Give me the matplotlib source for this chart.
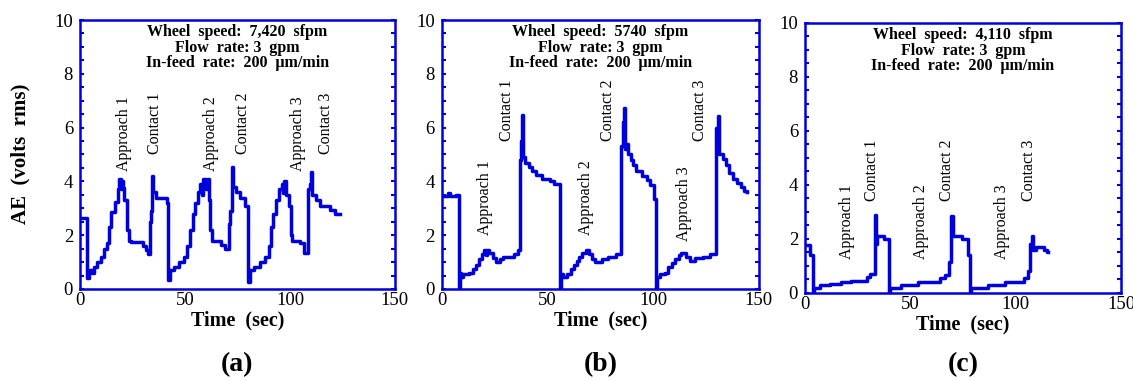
import matplotlib.pyplot as plt
from matplotlib.ticker import MultipleLocator

# AE signal readings (time in sec, AE in volts rms)
points_a = [(0, 2.63), (3.5, 0.4), (4.3, 0.7), (5.5, 0.6), (6.5, 0.8), (8, 1.0), (10, 1.2),
            (11.5, 1.5), (13, 1.7), (14, 2.3), (15, 2.85), (16.8, 3.25), (18, 3.7), (18.7, 4.1),
            (19.3, 3.7), (19.8, 4.0), (20.5, 3.75), (21, 3.3), (22.5, 2.2), (23.3, 1.8),
            (24.5, 1.75), (30, 1.6), (31.5, 1.45), (32.5, 1.3), (33.3, 2.5), (33.8, 2.9),
            (34.2, 4.2), (34.6, 3.6), (36, 3.4), (41.3, 3.2), (41.9, 0.35), (42.8, 0.7),
            (45, 0.8), (47, 1.0), (49.5, 1.2), (51, 1.6), (52.3, 2.2), (53.8, 2.8), (55, 3.2),
            (56, 3.6), (57, 3.9), (58, 3.5), (58.8, 4.1), (60, 3.7), (60.8, 4.1), (61.3, 3.3),
            (62, 2.2), (63, 1.8), (67, 1.65), (69, 1.5), (71, 2.4), (71.6, 2.9), (72.2, 4.55),
            (72.8, 3.8), (74.5, 3.6), (76, 3.4), (78.5, 3.1), (80.2, 0.25), (80.8, 0.7),
            (83, 0.8), (85.5, 1.0), (88, 1.2), (89.8, 1.6), (90.8, 2.3), (92, 2.8), (93.5, 3.3),
            (94.8, 3.7), (96, 3.9), (96.8, 3.55), (97.3, 4.0), (98.2, 3.5), (99.5, 3.1),
            (100.3, 2.0), (101, 1.8), (105, 1.7), (106.5, 1.35), (108.8, 3.7), (109.4, 3.9),
            (109.9, 4.35), (110.3, 3.5), (112.5, 3.3), (114.5, 3.1), (119, 2.95), (121.5, 2.8),
            (124, 2.8)]

points_b = [(0, 3.47), (3, 3.55), (4, 3.45), (6.5, 3.5), (8, 0.0), (8.6, 0.6), (9.2, 0.45),
            (10, 0.55), (13, 0.6), (14.5, 0.75), (16, 0.9), (17.5, 1.1), (19, 1.3), (20, 1.45),
            (20.8, 1.25), (21.5, 1.45), (22.5, 1.35), (24, 1.15), (25.5, 1.0), (27.3, 1.1),
            (29, 1.2), (34, 1.3), (36, 1.45), (36.8, 4.8), (37.3, 5.5), (37.9, 6.48), (38.2, 5.3),
            (38.4, 4.9), (39.5, 4.7), (41, 4.55), (42.5, 4.4), (44.5, 4.25), (47.5, 4.1),
            (51, 4.0), (53, 3.9), (55.8, 0.0), (56.3, 0.55), (57.5, 0.45), (59, 0.55),
            (61, 0.75), (62.5, 0.9), (64, 1.05), (65, 1.2), (66.5, 1.35), (68, 1.45), (69.5, 1.3),
            (71, 1.1), (72.5, 1.0), (76, 1.1), (78.5, 1.2), (82.5, 1.3), (84.8, 5.3), (85.5, 6.2),
            (86.1, 6.73), (86.6, 5.2), (87.5, 5.4), (88.2, 5.0), (89.3, 4.8), (90.4, 4.6),
            (92, 4.4), (94.5, 4.2), (97, 4.05), (98.5, 3.85), (100.5, 3.35), (101.4, 0.0),
            (101.9, 0.45), (103, 0.55), (105.5, 0.6), (107, 0.8), (109, 0.95), (110.5, 1.1),
            (112, 1.25), (113, 1.35), (115.5, 1.2), (117.5, 1.05), (120, 1.15), (123.5, 1.2),
            (127, 1.3), (129.5, 6.0), (130.6, 6.42), (131.3, 5.0), (133, 4.85), (134.5, 4.6),
            (136, 4.3), (137.7, 4.1), (139.5, 3.95), (141.5, 3.8), (143, 3.65), (144.5, 3.6)]

points_c = [(0, 1.77), (2.4, 1.4), (4.0, 0.0), (4.5, 0.2), (7, 0.3), (12, 0.35), (17, 0.42),
            (22, 0.45), (29.5, 0.6), (31, 0.7), (33.2, 2.88), (33.8, 1.8), (34.3, 2.1),
            (37.5, 2.0), (39.7, 0.0), (40.3, 0.2), (45.5, 0.3), (53.5, 0.4), (64, 0.55),
            (66.5, 0.65), (68.3, 1.15), (69.5, 2.85), (70.2, 2.1), (74.5, 2.0), (77.5, 1.4),
            (78.3, 0.0), (79, 0.2), (87, 0.3), (95, 0.4), (104, 0.55), (106, 0.8), (107, 1.8),
            (107.6, 2.1), (108.2, 1.6), (109.5, 1.7), (113.5, 1.6), (114.7, 1.5), (115.5, 1.5)]

speeds = ['7,420', '5740', '4,110']
captions = ['(a)', '(b)', '(c)']
event_names = ['Approach 1', 'Contact 1', 'Approach 2', 'Contact 2', 'Approach 3', 'Contact 3']
# event label anchors (time, AE value at text bottom)
events_a = [(21, 4.4), (35.7, 5.0), (62.4, 4.4), (77.5, 5.0), (103.7, 4.4), (117, 5.0)]
events_b = [(20.2, 2.0), (30.8, 5.5), (68, 2.0), (78.7, 5.5), (114.4, 1.8), (122, 5.5)]
events_c = [(19.8, 1.24), (32, 3.4), (55.2, 1.24), (67.2, 3.4), (93.4, 1.24), (106.5, 3.4)]

blue = '#0000dc'
plt.rcParams['font.family'] = 'Liberation Serif'

fig = plt.figure(figsize=(11.33, 3.81), dpi=100)
boxes = [(0.0706, 0.2415, 0.278, 0.706),
         (0.390, 0.2415, 0.2798, 0.706),
         (0.7105, 0.231, 0.279, 0.709)]

all_points = [points_a, points_b, points_c]
all_events = [events_a, events_b, events_c]

for i in range(3):
    ax = fig.add_axes(boxes[i])
    t = [p[0] for p in all_points[i]]
    v = [p[1] for p in all_points[i]]
    ax.plot(t, v, color=blue, lw=2.5, drawstyle='steps-post')

    ax.set_xlim(0, 150)
    ax.set_ylim(0, 10)
    ax.xaxis.set_major_locator(MultipleLocator(50))
    ax.yaxis.set_major_locator(MultipleLocator(2))
    ax.yaxis.set_minor_locator(MultipleLocator(0.5))
    ax.tick_params(axis='y', which='both', direction='in', left=True, right=True,
                   length=3, width=1.5, color=blue, labelsize=13.5, pad=5)
    ax.tick_params(axis='x', which='both', length=0, labelsize=13.5, pad=2)
    for s in ax.spines.values():
        s.set_color(blue)
        s.set_linewidth(1.8)

    # condition text
    ax.text(0.5, 0.955, 'Wheel  speed:  ' + speeds[i] + '  sfpm', transform=ax.transAxes,
            ha='center', va='center', fontsize=11.5, fontweight='bold')
    ax.text(0.5, 0.897, 'Flow  rate: 3  gpm', transform=ax.transAxes,
            ha='center', va='center', fontsize=11.5, fontweight='bold')
    ax.text(0.5, 0.839, 'In-feed  rate:  200  \u03bcm/min', transform=ax.transAxes,
            ha='center', va='center', fontsize=11.5, fontweight='bold')

    for name, (ex, ey) in zip(event_names, all_events[i]):
        ax.text(ex, ey, name, rotation=90, ha='center', va='bottom', fontsize=11.5)

    cx = boxes[i][0] + boxes[i][2] / 2
    fig.text(cx, 0.16 if i < 2 else 0.148, 'Time  (sec)', ha='center', va='center',
             fontsize=14.5, fontweight='bold')
    fig.text(cx, 0.042, captions[i], ha='center', va='center', fontsize=20, fontweight='bold')

fig.text(20 / 1133, 0.595, 'AE  (volts  rms)', rotation=90, ha='center', va='center',
         fontsize=15, fontweight='bold')

plt.savefig('out.png', dpi=100)
